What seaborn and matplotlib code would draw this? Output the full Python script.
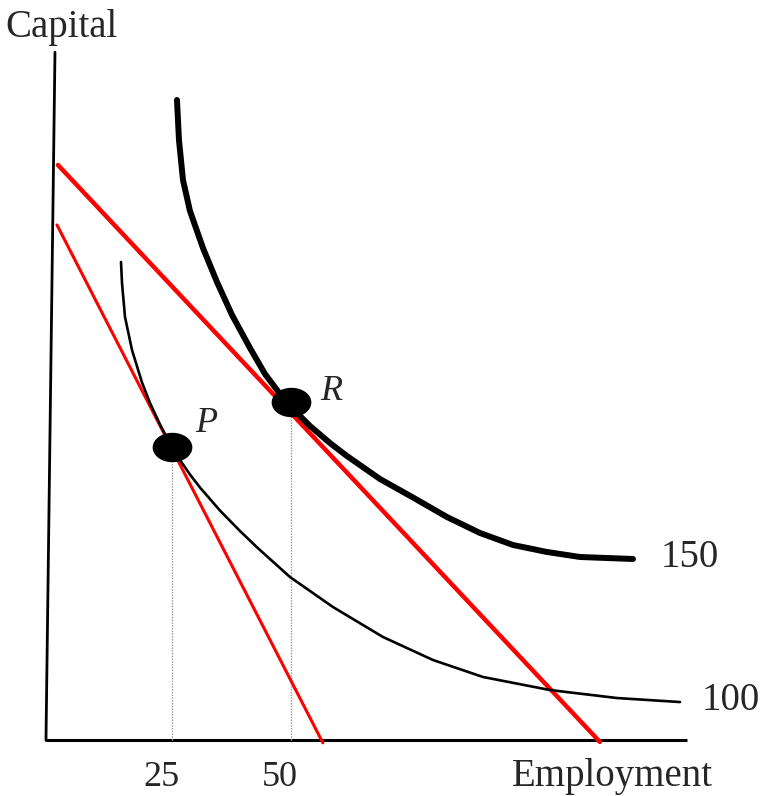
import matplotlib.pyplot as plt
import matplotlib as mpl
import numpy as np
import pandas as pd
import seaborn as sns
from matplotlib.path import Path

# isoquant 150 (thick) and 100 (thin)
q150_x = [26.05, 26.47, 27.31, 28.78, 31.51, 34.45, 37.61, 41.39, 44.54, 47.69, 50.21,
          53.99, 58.19, 61.76, 68.70, 75.63, 82.77, 89.71, 96.64, 103.78, 110.71, 121.85]
q150_y = [134.45, 126.05, 117.65, 111.13, 103.36, 96.22, 89.29, 82.35, 76.89, 72.69, 69.75,
          65.97, 62.39, 59.66, 54.83, 50.95, 46.85, 43.49, 40.97, 39.50, 38.45, 38.03]
q100_x = [14.29, 14.50, 15.13, 16.60, 18.70, 20.38, 22.48, 24.58, 26.68, 28.78, 30.88,
          35.08, 39.29, 42.86, 49.79, 58.82, 69.33, 79.83, 90.34, 104.41, 118.49, 131.72]
q100_y = [100.42, 96.01, 88.87, 81.93, 75.11, 70.80, 66.28, 62.29, 58.82, 55.78, 53.05,
          48.21, 43.91, 40.48, 34.24, 27.94, 21.64, 16.81, 13.24, 10.50, 8.82, 7.98]

# isocost lines (end points)
cost_hi_x = [1.05, 114.9]
cost_hi_y = [120.8, -0.4]
cost_lo_x = [0.84, 56.7]
cost_lo_y = [108.2, -0.6]

# chosen points
pt_names = ['P', 'R']
pt_x = [25.0, 50.0]
pt_y = [61.5, 71.0]

tick_vals = [25, 50]
tick_labels = ['25', '50']
curve_labels = ['150', '100']

sns.set_style('white')
plt.rcParams['font.family'] = ['Liberation Serif', 'DejaVu Serif']

fig = plt.figure(figsize=(7.6, 7.96), dpi=100)
ax = fig.add_axes([0, 0, 1, 1])
ax.set_xlim(-11.13, 148.53)
ax.set_ylim(-11.76, 155.46)
ax.axis('off')

# axes drawn by hand (the vertical one leans a little)
ax.plot([-1.68, 133.2], [0, 0], color='black', lw=2.2, solid_capstyle='butt')
ax.plot([-1.47, 0.42], [0, 144.5], color='black', lw=2.0)

# guide lines down to the x axis
for x, y in zip(pt_x, pt_y):
    ax.plot([x, x], [0, y], color='#9a9a9a', lw=1.0, ls=(0, (1, 1)))

sns.lineplot(x=cost_lo_x, y=cost_lo_y, ax=ax, color='red', lw=2.2, sort=False)
sns.lineplot(x=cost_hi_x, y=cost_hi_y, ax=ax, color='red', lw=3.2, sort=False)
sns.lineplot(x=q100_x, y=q100_y, ax=ax, color='black', lw=1.9, sort=False,
             solid_joinstyle='round')
sns.lineplot(x=q150_x, y=q150_y, ax=ax, color='black', lw=4.3, sort=False,
             solid_joinstyle='round')

circ = Path.unit_circle()
ellipse = Path(circ.vertices * np.array([1.0, 0.72]), circ.codes)
pts = pd.DataFrame({'x': pt_x, 'y': pt_y})
sns.scatterplot(data=pts, x='x', y='y', ax=ax, marker=ellipse, s=700,
                color='black', edgecolor='black', zorder=5)

fs = 28
ax.text(29.8, 64.7, pt_names[0], fontsize=fs - 2, style='italic', va='baseline')
ax.text(56.1, 71.4, pt_names[1], fontsize=fs - 2, style='italic', va='baseline')
ax.text(127.6, 36.3, curve_labels[0], fontsize=fs, va='baseline')
ax.text(136.3, 6.3, curve_labels[1], fontsize=fs, va='baseline')
for v, lab in zip(tick_vals, tick_labels):
    ax.text(v - 2.3, -9.6, lab, fontsize=fs - 2, ha='center', va='baseline')
ax.text(-10.08, 147.7, 'Capital', fontsize=fs, va='baseline')
ax.text(96.4, -9.6, 'Employment', fontsize=fs, va='baseline')

fig.savefig('out.png', dpi=100)
